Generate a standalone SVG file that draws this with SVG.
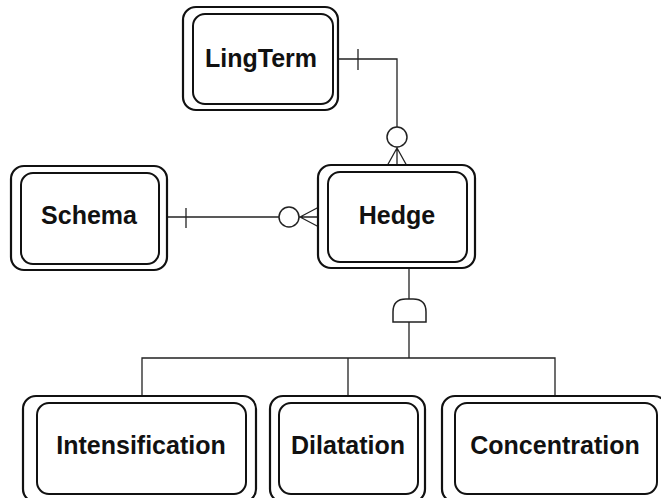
<svg xmlns="http://www.w3.org/2000/svg" width="661" height="498" viewBox="0 0 661 498">
  <style>
    .outer { fill: #fff; stroke: #111; stroke-width: 2.2; }
    .inner { fill: none; stroke: #111; stroke-width: 2; }
    .label { font-family: "Liberation Sans", Arial, sans-serif; font-weight: bold; font-size: 25px; fill: #111; text-anchor: middle; }
    .conn { fill: none; stroke: #222; stroke-width: 1.3; }
    .sym { fill: #fff; stroke: #222; stroke-width: 1.5; }
  </style>
  <rect width="661" height="498" fill="#fff"/>

  <g id="connectors">
    <!-- LingTerm (one) to Hedge (zero or many) -->
    <path class="conn" d="M338 59 H397 V127"/>
    <line class="conn" x1="358" y1="49" x2="358" y2="70"/>
    <circle class="sym" cx="397" cy="137" r="10"/>
    <path class="conn" d="M397 147 V166 M397 148 L387 166 M397 148 L407 166"/>

    <!-- Schema (one) to Hedge (zero or many) -->
    <path class="conn" d="M167 217 H279"/>
    <line class="conn" x1="186" y1="208" x2="186" y2="228"/>
    <circle class="sym" cx="289" cy="217" r="10"/>
    <path class="conn" d="M299 217 H319 M300 217 L319 207 M300 217 L319 227"/>

    <!-- Hedge subtypes -->
    <path class="conn" d="M409 268 V299 M409 322 V358"/>
    <path class="sym" d="M393 322 V312 Q393 299 406 299 H413 Q426 299 426 312 V322 Z"/>
    <path class="conn" d="M142 396 V358 H555 V396 M348 358 V396"/>
  </g>

  <g id="lingterm">
    <rect class="outer" x="183" y="7" width="155" height="103" rx="13"/>
    <rect class="inner" x="193" y="14" width="140" height="90" rx="12"/>
    <text class="label" x="261" y="67">LingTerm</text>
  </g>

  <g id="schema">
    <rect class="outer" x="11" y="166" width="156" height="104" rx="13"/>
    <rect class="inner" x="21" y="173" width="138" height="91" rx="12"/>
    <text class="label" x="89" y="224">Schema</text>
  </g>

  <g id="hedge">
    <rect class="outer" x="318" y="165" width="157" height="103" rx="13"/>
    <rect class="inner" x="328" y="172" width="139" height="90" rx="12"/>
    <text class="label" x="397" y="224">Hedge</text>
  </g>

  <g id="intensification">
    <rect class="outer" x="23" y="396" width="233" height="106" rx="13"/>
    <rect class="inner" x="37" y="403" width="209" height="91" rx="12"/>
    <text class="label" x="141" y="454">Intensification</text>
  </g>

  <g id="dilatation">
    <rect class="outer" x="270" y="396" width="155" height="106" rx="13"/>
    <rect class="inner" x="279" y="403" width="139" height="91" rx="12"/>
    <text class="label" x="348" y="454">Dilatation</text>
  </g>

  <g id="concentration">
    <rect class="outer" x="442" y="396" width="225" height="106" rx="13"/>
    <rect class="inner" x="455" y="403" width="202" height="91" rx="12"/>
    <text class="label" x="555" y="454">Concentration</text>
  </g>
</svg>
